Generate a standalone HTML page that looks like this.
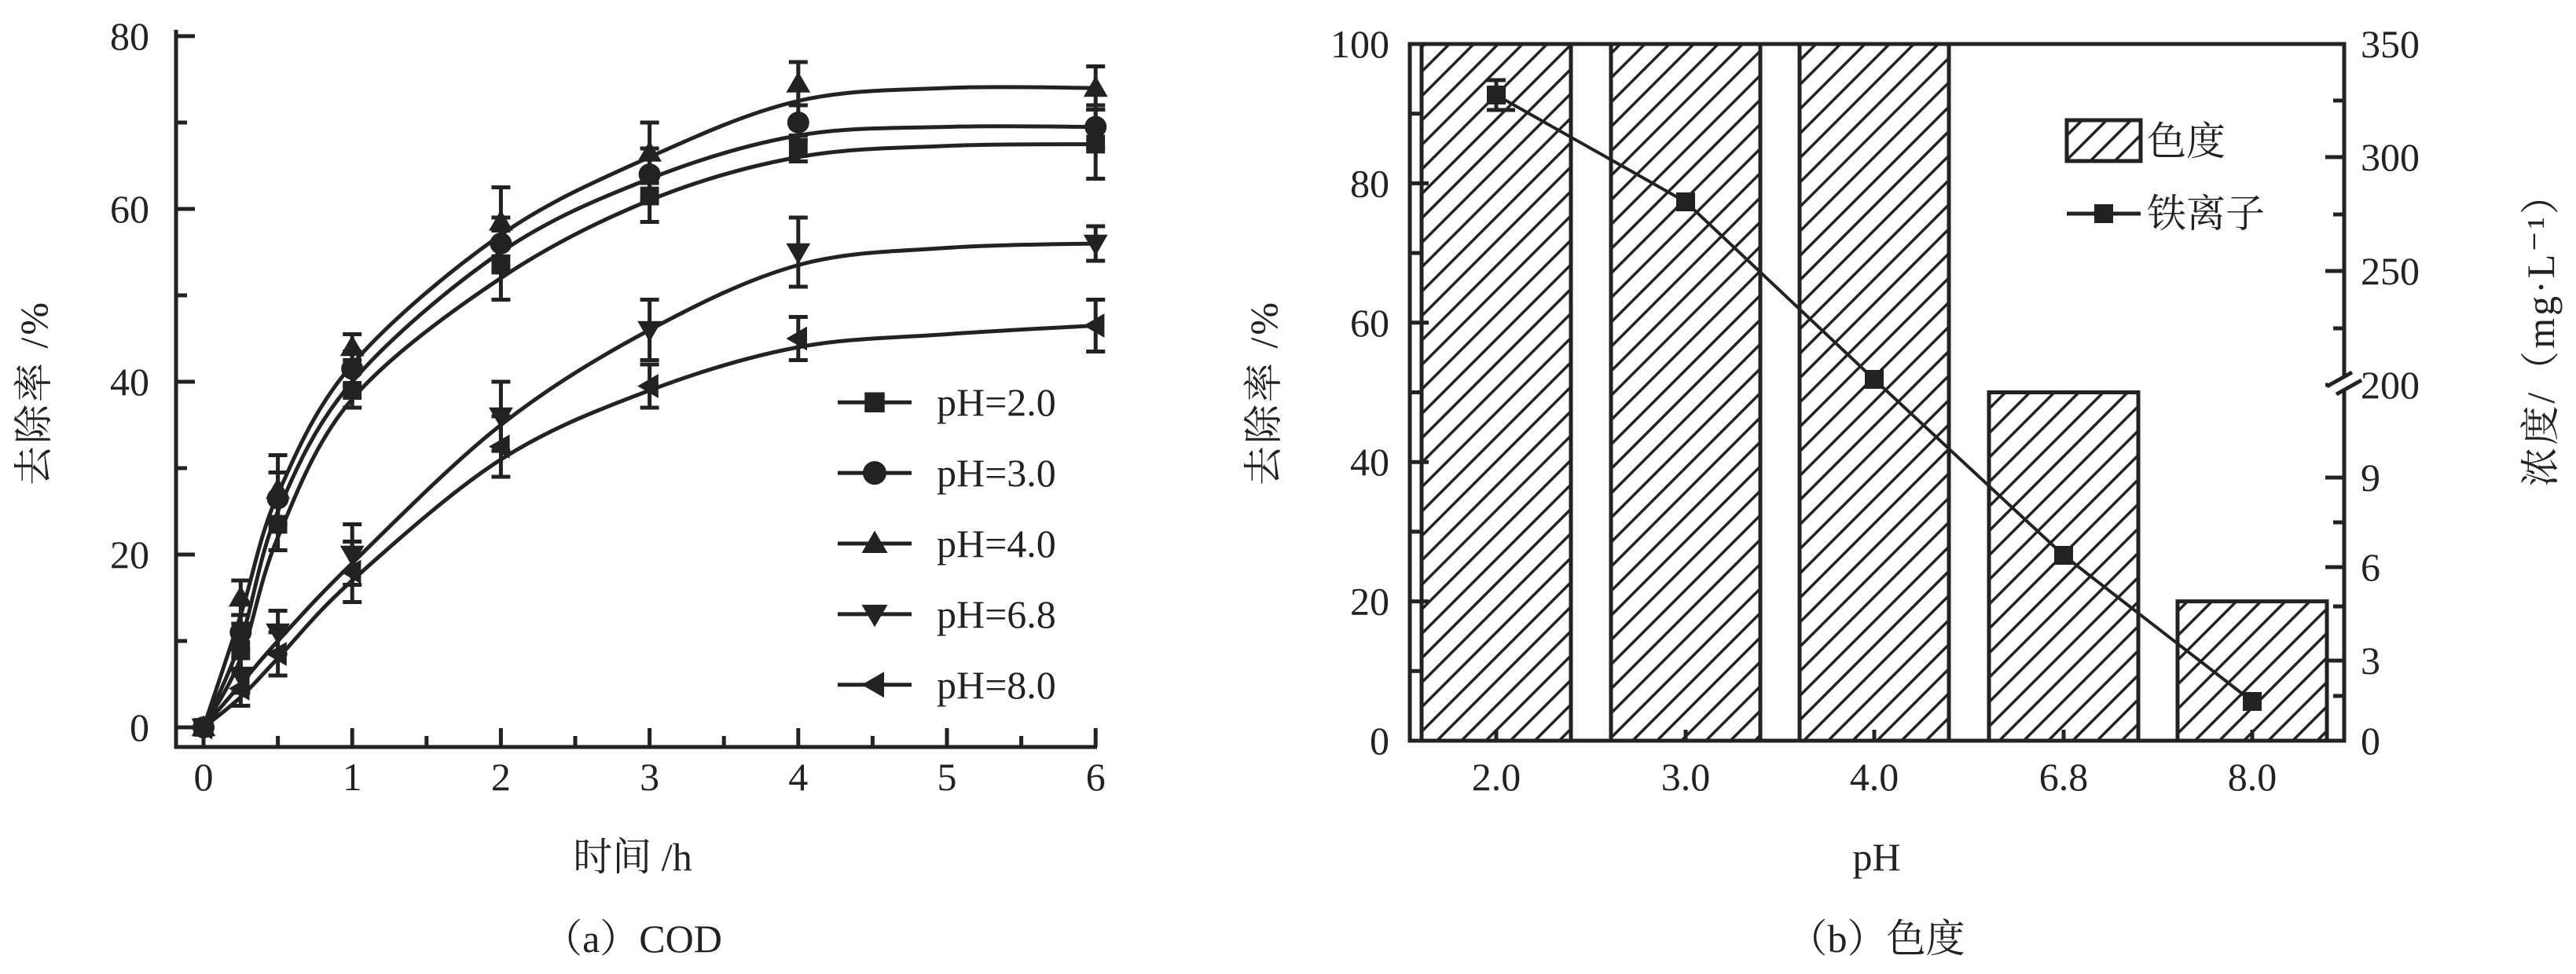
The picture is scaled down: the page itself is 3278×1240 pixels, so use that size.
<!DOCTYPE html>
<html><head><meta charset="utf-8"><style>
html,body{margin:0;padding:0;background:#fff}
svg{display:block}
text{font-family:"Liberation Serif","Noto Serif CJK SC",serif;fill:#222}
</style></head><body>
<svg id="s" width="3278" height="1240" viewBox="0 0 3278 1240" xmlns="http://www.w3.org/2000/svg">
<defs>
<pattern id="h" width="22" height="22" patternUnits="userSpaceOnUse" patternTransform="rotate(45)">
<rect width="22" height="22" fill="#fff"/>
<line x1="0" y1="0" x2="0" y2="22" stroke="#222" stroke-width="7"/>
</pattern>
</defs>
<g id="A" stroke="#222" stroke-width="5" fill="none"></g>
<g id="B" stroke="#222" stroke-width="5" fill="none"></g>
<g id="T" font-size="50" text-anchor="middle"></g>
</svg>
<script>
const NS="http://www.w3.org/2000/svg";
function el(p,tag,attrs,txt){const e=document.createElementNS(NS,tag);for(const k in attrs)e.setAttribute(k,attrs[k]);if(txt!==undefined)e.textContent=txt;document.getElementById(p).appendChild(e);return e;}
const X=t=>259+t*189.2, Y=v=>926-v*11.0;
el('A','path',{d:'M224 38 V951 H1396'});
for(let v=0;v<=80;v+=10){const y=Y(v);el('A','line',{x1:224,y1:y,x2:v%20?238:248,y2:y});}
for(let v=0;v<=80;v+=20)el('T','text',{x:190,y:Y(v)+17,'text-anchor':'end'},v);
for(let t=0;t<=6;t+=0.5){const x=X(t);el('A','line',{x1:x,y1:951,x2:x,y2:t%1?937:927});}
for(let t=0;t<=6;t++)el('T','text',{x:X(t),y:1006},t);
el('T','text',{x:0,y:0,transform:'translate(60,500) rotate(-90)','letter-spacing':'3'},'去除率 /%');
el('T','text',{x:805,y:1108},'时间 /h');
el('T','text',{x:805,y:1212},'（a）COD');
const ts=[0,0.25,0.5,1,2,3,4,6];
const ct=[0,0.25,0.5,1,2,3,4,5,6];
const S=[
 {d:[0,9,23.5,39,53.5,61.5,67,67.5],c:[0,8,22,38,52,61,66,67.3,67.5],m:'sq',e:[0,3,3,2,4,3,1.5,4]},
 {d:[0,11,26.5,41.5,56,64,70,69.5],c:[0,10,25,40,55,63.5,68.5,69.5,69.5],m:'ci',e:[0,2,3,2,3,3,2,2.5]},
 {d:[0,15,27.5,44,58.5,66.5,74.5,74],c:[0,13,27,42,57,66,72.5,74,74],m:'up',e:[0,2,4,1.5,4,3.5,2.5,2.5]},
 {d:[0,6,11,20,36,46,55,56],c:[0,5,10,19,35,46,53.5,55.5,56],m:'dn',e:[0,2,2.5,3.5,4,3.5,4,2]},
 {d:[0,4.5,8.5,18,32.5,39.5,45,46.5],c:[0,3.5,8,17,31,39,44,45.5,46.5],m:'lt',e:[0,2,2.5,3.5,3.5,2.5,2.5,3]}];
function mk(g,type,x,y,r){
 if(type=='sq')el(g,'rect',{x:x-r*0.85,y:y-r*0.85,width:r*1.7,height:r*1.7,fill:'#222',stroke:'none'});
 if(type=='ci')el(g,'circle',{cx:x,cy:y,r:r,fill:'#222',stroke:'none'});
 if(type=='up')el(g,'polygon',{points:`${x},${y-r*1.1} ${x-r*1.1},${y+r*0.8} ${x+r*1.1},${y+r*0.8}`,fill:'#222',stroke:'none'});
 if(type=='dn')el(g,'polygon',{points:`${x},${y+r*1.1} ${x-r*1.1},${y-r*0.8} ${x+r*1.1},${y-r*0.8}`,fill:'#222',stroke:'none'});
 if(type=='lt')el(g,'polygon',{points:`${x-r*1.1},${y} ${x+r*0.8},${y-r*1.1} ${x+r*0.8},${y+r*1.1}`,fill:'#222',stroke:'none'});
}
function spline(vals){
 const P=ct.map((t,i)=>[X(t),Y(vals[i])]);let d='M'+P[0][0]+' '+P[0][1];
 for(let i=0;i<P.length-1;i++){const p0=P[Math.max(0,i-1)],p1=P[i],p2=P[i+1],p3=P[Math.min(P.length-1,i+2)];
  const c1=[p1[0]+(p2[0]-p0[0])/6,p1[1]+(p2[1]-p0[1])/6],c2=[p2[0]-(p3[0]-p1[0])/6,p2[1]-(p3[1]-p1[1])/6];
  d+=`C${c1[0].toFixed(1)} ${c1[1].toFixed(1)} ${c2[0].toFixed(1)} ${c2[1].toFixed(1)} ${p2[0].toFixed(1)} ${p2[1].toFixed(1)}`;}
 return d;}
S.forEach(s=>{
 el('A','path',{d:spline(s.c)});
 ts.forEach((t,i)=>{const x=X(t),y=Y(s.d[i]);if(s.e[i]){const yt=Y(s.d[i]+s.e[i]),yb=Y(s.d[i]-s.e[i]);el('A','path',{d:`M${x} ${yb}V${yt}M${x-12} ${yt}H${x+12}M${x-12} ${yb}H${x+12}`});}
  mk('A',s.m,x,y,14);});
});
const lg=['pH=2.0','pH=3.0','pH=4.0','pH=6.8','pH=8.0'];
[245,288,331,374,417].forEach((ty,i)=>{const y=ty*2.0906;el('A','line',{x1:1066,y1:y,x2:1160,y2:y});mk('A',S[i].m,1113,y,15);el('T','text',{x:1192,y:y+17,'text-anchor':'start'},lg[i]);});
const L=1794,R=2983,TOP=56,BOT=943;
const cx=[1904,2145,2385,2626,2866],bh=[100,100,100,50,20];
const YL=v=>BOT-v*8.87;
cx.forEach((c,i)=>el('B','rect',{x:c-95,y:YL(bh[i]),width:190,height:BOT-YL(bh[i]),fill:'url(#h)',stroke:'#222','stroke-width':5}));
el('B','rect',{x:L,y:TOP,width:R-L,height:BOT-TOP});
for(let v=0;v<=100;v+=10){const y=YL(v);el('B','line',{x1:L,y1:y,x2:L+(v%20?14:24),y2:y});}
for(let v=0;v<=100;v+=20)el('T','text',{x:1768,y:YL(v)+17,'text-anchor':'end'},v);
const yr=[[0,943],[3,841],[6,722],[9,608],[200,490],[250,345],[300,200],[350,56]];
yr.forEach(([v,y])=>{el('B','line',{x1:R,y1:y,x2:R-24,y2:y});el('T','text',{x:3004,y:y+17,'text-anchor':'start'},v);});
[[1.5,886],[4.5,772],[7.5,665],[225,418],[275,273],[325,128]].forEach(([v,y])=>el('B','line',{x1:R,y1:y,x2:R-14,y2:y}));
el('B','rect',{x:R-20,y:478,width:40,height:20,fill:'#fff',stroke:'none'});
el('B','path',{d:`M${R-22} 492 L${R+10} 474 M${R-10} 502 L${R+22} 484`});
cx.forEach((c,i)=>{el('B','line',{x1:c,y1:BOT,x2:c,y2:BOT-14});el('T','text',{x:c,y:1006},['2.0','3.0','4.0','6.8','8.0'][i]);});
const fe=[121,257,483,707,893];
let p='';cx.forEach((c,i)=>p+=(i?'L':'M')+c+' '+fe[i]);el('B','path',{d:p,'stroke-width':4});
el('B','path',{d:`M1904 102V140M1892 102H1916M1892 140H1928`});
cx.forEach((c,i)=>el('B','rect',{x:c-12,y:fe[i]-12,width:24,height:24,fill:'#222',stroke:'none'}));
el('B','rect',{x:2630,y:153,width:94,height:52,fill:'url(#h)',stroke:'#222','stroke-width':5});
el('T','text',{x:2732,y:197,'text-anchor':'start'},'色度');
el('B','line',{x1:2630,y1:272,x2:2724,y2:272});el('B','rect',{x:2665,y:260,width:24,height:24,fill:'#222',stroke:'none'});
el('T','text',{x:2732,y:289,'text-anchor':'start'},'铁离子');
el('T','text',{x:0,y:0,transform:'translate(1625,500) rotate(-90)','letter-spacing':'3'},'去除率 /%');
el('T','text',{x:0,y:0,transform:'translate(3250,420) rotate(-90)','letter-spacing':'3'},'浓度/（mg·L⁻¹）');
el('T','text',{x:2388,y:1108},'pH');
el('T','text',{x:2388,y:1212},'（b）色度');
</script>
</body></html>
